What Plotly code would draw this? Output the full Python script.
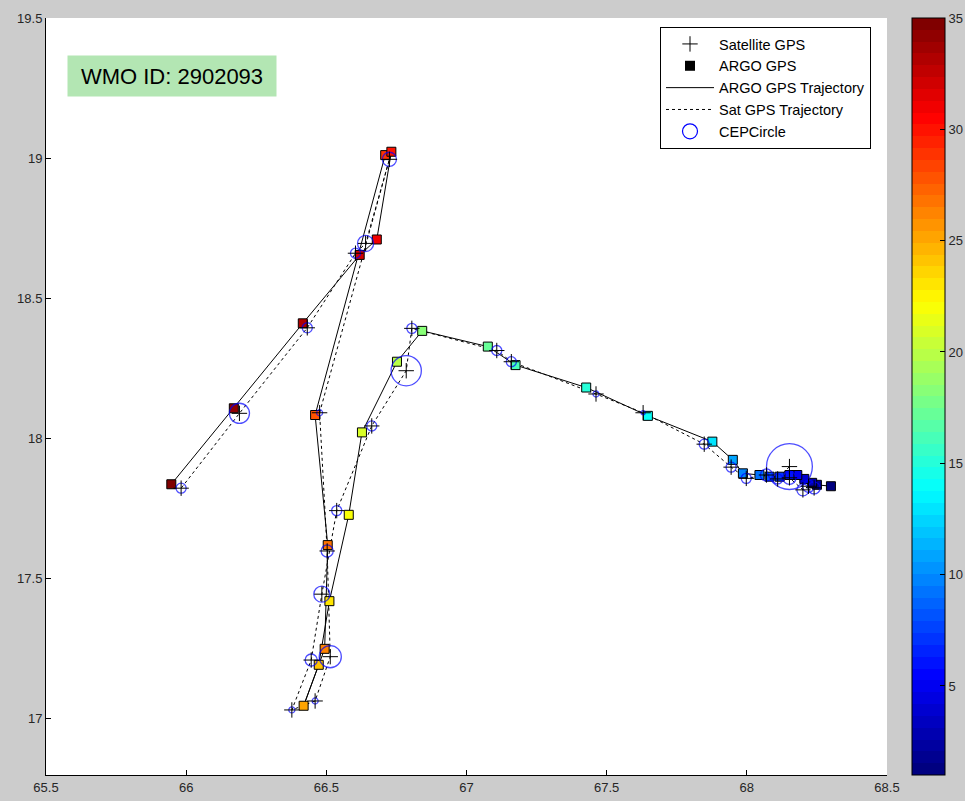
import plotly.graph_objects as go

# ---- ARGO float fixes (lon, lat) in cycle order, with cycle number for colour ----
argo_lon = [68.300, 68.250, 68.233, 68.205, 68.180, 68.152, 68.117, 68.081, 68.045,
            67.986, 67.950, 67.877, 67.647, 67.427, 67.175, 67.076, 66.842, 66.752,
            66.627, 66.580, 66.511, 66.473, 66.419, 66.494, 66.505, 66.460, 66.710,
            66.732, 66.680, 66.619, 66.416, 66.170, 65.947]
argo_lat = [17.830, 17.835, 17.842, 17.856, 17.870, 17.870, 17.864, 17.864, 17.870,
            17.876, 17.924, 17.989, 18.081, 18.182, 18.262, 18.328, 18.384, 18.274,
            18.022, 17.728, 17.420, 17.193, 17.047, 17.250, 17.620, 18.084, 19.011,
            19.023, 18.710, 18.655, 18.411, 18.108, 17.837]
argo_cycle = [1, 2, 3, 4, 5, 6, 7, 8, 9,
              10, 11, 13, 14, 15, 16, 17, 18, 20,
              21, 22, 23, 24, 25, 26, 27, 28, 29,
              30, 31, 32, 33, 34, 35]

# ---- Satellite fixes (lon, lat) and CEP radius in km ----
sat_lon = [68.240, 68.220, 68.200, 68.152, 68.152, 68.110, 68.070, 67.998, 67.944,
           67.848, 67.630, 67.462, 67.160, 67.108, 66.805, 66.785, 66.662, 66.537,
           66.484, 66.446, 66.377, 66.460, 66.514, 66.503, 66.476, 66.725, 66.640,
           66.604, 66.432, 66.190, 65.982]
sat_lat = [17.824, 17.830, 17.817, 17.860, 17.900, 17.856, 17.870, 17.858, 17.898,
           17.980, 18.092, 18.159, 18.274, 18.314, 18.393, 18.242, 18.045, 17.743,
           17.445, 17.210, 17.032, 17.064, 17.222, 17.599, 18.092, 18.996, 18.696,
           18.661, 18.395, 18.090, 17.823]
cep_km = [2.4, 2.4, 2.4, 2.6, 9.1, 2.0, 2.4, 2.0, 2.0,
          2.0, 0.8, 1.2, 2.0, 2.0, 2.0, 6.0, 2.0, 2.0,
          3.2, 2.4, 1.2, 1.2, 4.4, 2.4, 1.2, 2.8, 3.2,
          2.0, 2.0, 4.0, 2.0]

x_ticks = [65.5, 66, 66.5, 67, 67.5, 68, 68.5]
y_ticks = [17, 17.5, 18, 18.5, 19, 19.5]
cbar_ticks = [5, 10, 15, 20, 25, 30, 35]

# ---- layout geometry ----
W, H = 965, 801
M_L, M_R, M_T, M_B = 46, 78, 18, 26
PLOT_W = W - M_L - M_R
PLOT_H = H - M_T - M_B
X_RANGE = [65.5, 68.5]
Y_RANGE = [16.8, 19.5]
KM_PER_DEG = 111.32
px_per_deg = PLOT_W / (X_RANGE[1] - X_RANGE[0])
cep_diam_px = [2 * (r / KM_PER_DEG) * px_per_deg for r in cep_km]


def jet(t):
    clip = lambda v: max(0.0, min(1.0, v))
    r = clip(1.5 - abs(4 * t - 3))
    g = clip(1.5 - abs(4 * t - 2))
    b = clip(1.5 - abs(4 * t - 1))
    return "rgb(%d,%d,%d)" % (round(r * 255), round(g * 255), round(b * 255))


# 64-step banded jet colour map
N = 64
jet_scale = []
for i in range(N):
    c = jet(i / (N - 1))
    jet_scale.append([i / N, c])
    jet_scale.append([(i + 1) / N, c])

FONT = "Arial, Liberation Sans, sans-serif"
BLUE = "#0000ff"

fig = go.Figure()

# ARGO trajectory (solid)
fig.add_trace(go.Scatter(
    x=argo_lon, y=argo_lat, mode="lines", name="ARGO GPS Trajectory",
    line=dict(color="black", width=1), legendrank=3))

# Satellite trajectory (dashed)
fig.add_trace(go.Scatter(
    x=sat_lon, y=sat_lat, mode="lines", name="Sat GPS Trajectory",
    line=dict(color="black", width=1, dash="3px,3px"), legendrank=4))

# ARGO fixes coloured by cycle
fig.add_trace(go.Scatter(
    x=argo_lon, y=argo_lat, mode="markers", showlegend=False,
    marker=dict(symbol="square", size=9, color=argo_cycle,
                colorscale=jet_scale, cmin=1, cmax=35,
                line=dict(color="black", width=1),
                colorbar=dict(
                    x=(912 - M_L) / PLOT_W, xanchor="left",
                    y=0.5, yanchor="middle", len=1, lenmode="fraction",
                    thickness=33, xpad=0, ypad=0,
                    outlinecolor="black", outlinewidth=1,
                    tickvals=cbar_ticks, ticks="inside", ticklen=5,
                    tickcolor="black",
                    tickfont=dict(family=FONT, size=13, color="#262626")))))

# legend swatch for ARGO fixes
fig.add_trace(go.Scatter(
    x=[None], y=[None], mode="markers", name="ARGO GPS",
    marker=dict(symbol="square", size=10, color="black"), legendrank=2))

# CEP circles around satellite fixes
fig.add_trace(go.Scatter(
    x=sat_lon, y=sat_lat, mode="markers", showlegend=False,
    marker=dict(symbol="circle-open", size=cep_diam_px, color=BLUE,
                line=dict(color=BLUE, width=1.3))))

# legend swatch for CEP circles
fig.add_trace(go.Scatter(
    x=[None], y=[None], mode="markers", name="CEPCircle",
    marker=dict(symbol="circle-open", size=15, color=BLUE,
                line=dict(color=BLUE, width=1.2)), legendrank=5))

# Satellite fixes
fig.add_trace(go.Scatter(
    x=sat_lon, y=sat_lat, mode="markers", name="Satellite GPS",
    marker=dict(symbol="cross-thin", size=11, color="black",
                line=dict(color="black", width=1)), legendrank=1))

fig.update_layout(
    width=W, height=H,
    margin=dict(l=M_L, r=M_R, t=M_T, b=M_B, pad=0, autoexpand=False),
    paper_bgcolor="#cccccc", plot_bgcolor="white",
    font=dict(family=FONT, size=13, color="#262626"),
    legend=dict(x=(660 - M_L) / PLOT_W, y=1 - (27 - M_T) / PLOT_H,
                xanchor="left", yanchor="top", bgcolor="white",
                bordercolor="black", borderwidth=1, itemwidth=48,
                tracegroupgap=0, font=dict(family=FONT, size=14.5, color="black")),
    annotations=[dict(
        text="WMO ID: 2902093", xref="paper", yref="paper",
        x=(67 - M_L) / PLOT_W, y=1 - (55 - M_T) / PLOT_H,
        xanchor="left", yanchor="top", showarrow=False,
        bgcolor="#b3e6b3", borderpad=4, width=200, height=32,
        font=dict(family=FONT, size=22, color="black"))],
)

fig.update_xaxes(range=X_RANGE, tickvals=x_ticks, ticks="inside", ticklen=5,
                 tickcolor="black", showline=True, linecolor="black",
                 linewidth=1, showgrid=False, zeroline=False,
                 tickfont=dict(family=FONT, size=13, color="#262626"))
fig.update_yaxes(range=Y_RANGE, tickvals=y_ticks, ticks="inside", ticklen=5,
                 tickcolor="black", showline=True, linecolor="black",
                 linewidth=1, showgrid=False, zeroline=False,
                 tickfont=dict(family=FONT, size=13, color="#262626"))

fig.write_html("out.html")
